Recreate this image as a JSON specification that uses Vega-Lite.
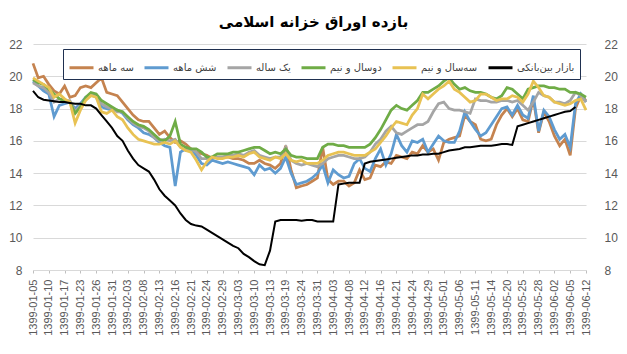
{
"$schema":"https://vega.github.io/schema/vega-lite/v6.json",
"width":565,"height":226,
"autosize":"none",
"padding":{"left":31,"top":44,"right":31,"bottom":84},
"background":"white",
"title":{"text":"بازده اوراق خزانه اسلامی","font":"DejaVu Sans","fontSize":15,"fontWeight":"bold","color":"#000000","anchor":"middle","offset":8},
"data":{"values":[
{"date":"1399-01-05","سه ماهه":20.8,"شش ماهه":19.7,"یک ساله":19.6,"دوسال و نیم":19.8,"سه\u200cسال و نیم":19.9,"بازار بین\u200cبانکی":19.1},
{"date":"1399-01-06","سه ماهه":19.9,"شش ماهه":19.4,"یک ساله":19.4,"دوسال و نیم":19.6,"سه\u200cسال و نیم":19.7,"بازار بین\u200cبانکی":18.7},
{"date":"1399-01-09","سه ماهه":20.0,"شش ماهه":19.1,"یک ساله":19.3,"دوسال و نیم":19.5,"سه\u200cسال و نیم":19.5,"بازار بین\u200cبانکی":18.55},
{"date":"1399-01-10","سه ماهه":19.5,"شش ماهه":18.9,"یک ساله":19.0,"دوسال و نیم":19.2,"سه\u200cسال و نیم":19.3,"بازار بین\u200cبانکی":18.5},
{"date":"1399-01-11","سه ماهه":19.1,"شش ماهه":17.5,"یک ساله":18.4,"دوسال و نیم":18.9,"سه\u200cسال و نیم":18.7,"بازار بین\u200cبانکی":18.45},
{"date":"1399-01-16","سه ماهه":18.9,"شش ماهه":18.2,"یک ساله":18.6,"دوسال و نیم":18.6,"سه\u200cسال و نیم":18.9,"بازار بین\u200cبانکی":18.4},
{"date":"1399-01-17","سه ماهه":19.4,"شش ماهه":18.3,"یک ساله":18.5,"دوسال و نیم":18.5,"سه\u200cسال و نیم":18.6,"بازار بین\u200cبانکی":18.4},
{"date":"1399-01-18","سه ماهه":18.7,"شش ماهه":18.4,"یک ساله":18.5,"دوسال و نیم":18.4,"سه\u200cسال و نیم":18.4,"بازار بین\u200cبانکی":18.35},
{"date":"1399-01-19","سه ماهه":18.8,"شش ماهه":18.0,"یک ساله":17.8,"دوسال و نیم":17.7,"سه\u200cسال و نیم":17.1,"بازار بین\u200cبانکی":18.3},
{"date":"1399-01-23","سه ماهه":19.3,"شش ماهه":18.3,"یک ساله":18.2,"دوسال و نیم":18.1,"سه\u200cسال و نیم":17.9,"بازار بین\u200cبانکی":18.3},
{"date":"1399-01-24","سه ماهه":19.4,"شش ماهه":18.7,"یک ساله":18.6,"دوسال و نیم":18.7,"سه\u200cسال و نیم":18.5,"بازار بین\u200cبانکی":18.2},
{"date":"1399-01-25","سه ماهه":19.3,"شش ماهه":18.9,"یک ساله":18.9,"دوسال و نیم":19.0,"سه\u200cسال و نیم":18.8,"بازار بین\u200cبانکی":18.2},
{"date":"1399-01-26","سه ماهه":19.6,"شش ماهه":18.7,"یک ساله":18.8,"دوسال و نیم":18.9,"سه\u200cسال و نیم":18.7,"بازار بین\u200cبانکی":18.0},
{"date":"1399-01-27","سه ماهه":19.9,"شش ماهه":18.1,"یک ساله":18.3,"دوسال و نیم":18.5,"سه\u200cسال و نیم":17.8,"بازار بین\u200cبانکی":17.6},
{"date":"1399-01-30","سه ماهه":19.0,"شش ماهه":18.0,"یک ساله":18.1,"دوسال و نیم":18.3,"سه\u200cسال و نیم":17.7,"بازار بین\u200cبانکی":17.2},
{"date":"1399-01-31","سه ماهه":18.9,"شش ماهه":17.9,"یک ساله":18.0,"دوسال و نیم":18.1,"سه\u200cسال و نیم":17.9,"بازار بین\u200cبانکی":16.8},
{"date":"1399-02-01","سه ماهه":18.8,"شش ماهه":17.9,"یک ساله":17.8,"دوسال و نیم":17.9,"سه\u200cسال و نیم":17.5,"بازار بین\u200cبانکی":16.3},
{"date":"1399-02-02","سه ماهه":18.4,"شش ماهه":17.7,"یک ساله":17.8,"دوسال و نیم":17.8,"سه\u200cسال و نیم":17.3,"بازار بین\u200cبانکی":16.0},
{"date":"1399-02-03","سه ماهه":18.0,"شش ماهه":17.3,"یک ساله":17.4,"دوسال و نیم":17.5,"سه\u200cسال و نیم":16.8,"بازار بین\u200cبانکی":15.4},
{"date":"1399-02-06","سه ماهه":17.6,"شش ماهه":17.0,"یک ساله":17.1,"دوسال و نیم":17.2,"سه\u200cسال و نیم":16.4,"بازار بین\u200cبانکی":14.9},
{"date":"1399-02-07","سه ماهه":17.3,"شش ماهه":16.8,"یک ساله":16.9,"دوسال و نیم":17.0,"سه\u200cسال و نیم":16.1,"بازار بین\u200cبانکی":14.5},
{"date":"1399-02-08","سه ماهه":17.2,"شش ماهه":16.5,"یک ساله":16.8,"دوسال و نیم":16.9,"سه\u200cسال و نیم":16.0,"بازار بین\u200cبانکی":14.3},
{"date":"1399-02-09","سه ماهه":17.2,"شش ماهه":16.4,"یک ساله":16.6,"دوسال و نیم":16.7,"سه\u200cسال و نیم":15.9,"بازار بین\u200cبانکی":14.1},
{"date":"1399-02-10","سه ماهه":16.8,"شش ماهه":16.2,"یک ساله":16.2,"دوسال و نیم":16.4,"سه\u200cسال و نیم":15.8,"بازار بین\u200cبانکی":13.6},
{"date":"1399-02-13","سه ماهه":16.4,"شش ماهه":15.9,"یک ساله":16.0,"دوسال و نیم":16.1,"سه\u200cسال و نیم":15.8,"بازار بین\u200cبانکی":13.0},
{"date":"1399-02-14","سه ماهه":16.6,"شش ماهه":15.7,"یک ساله":16.1,"دوسال و نیم":16.0,"سه\u200cسال و نیم":15.9,"بازار بین\u200cبانکی":12.6},
{"date":"1399-02-15","سه ماهه":16.2,"شش ماهه":15.6,"یک ساله":16.0,"دوسال و نیم":16.3,"سه\u200cسال و نیم":15.8,"بازار بین\u200cبانکی":12.3},
{"date":"1399-02-16","سه ماهه":15.9,"شش ماهه":13.2,"یک ساله":16.1,"دوسال و نیم":17.2,"سه\u200cسال و نیم":16.0,"بازار بین\u200cبانکی":12.0},
{"date":"1399-02-17","سه ماهه":16.0,"شش ماهه":15.3,"یک ساله":15.6,"دوسال و نیم":15.8,"سه\u200cسال و نیم":15.6,"بازار بین\u200cبانکی":11.5},
{"date":"1399-02-20","سه ماهه":15.8,"شش ماهه":15.5,"یک ساله":15.4,"دوسال و نیم":15.6,"سه\u200cسال و نیم":15.4,"بازار بین\u200cبانکی":11.1},
{"date":"1399-02-21","سه ماهه":15.5,"شش ماهه":15.4,"یک ساله":15.5,"دوسال و نیم":15.5,"سه\u200cسال و نیم":15.3,"بازار بین\u200cبانکی":10.85},
{"date":"1399-02-22","سه ماهه":15.3,"شش ماهه":15.1,"یک ساله":15.3,"دوسال و نیم":15.5,"سه\u200cسال و نیم":14.8,"بازار بین\u200cبانکی":10.75},
{"date":"1399-02-23","سه ماهه":15.2,"شش ماهه":14.6,"یک ساله":14.9,"دوسال و نیم":15.3,"سه\u200cسال و نیم":14.2,"بازار بین\u200cبانکی":10.7},
{"date":"1399-02-24","سه ماهه":15.1,"شش ماهه":14.5,"یک ساله":14.9,"دوسال و نیم":15.0,"سه\u200cسال و نیم":14.7,"بازار بین\u200cبانکی":10.5},
{"date":"1399-02-27","سه ماهه":14.9,"شش ماهه":14.8,"یک ساله":15.0,"دوسال و نیم":15.0,"سه\u200cسال و نیم":15.0,"بازار بین\u200cبانکی":10.3},
{"date":"1399-02-28","سه ماهه":15.0,"شش ماهه":14.7,"یک ساله":15.0,"دوسال و نیم":15.2,"سه\u200cسال و نیم":14.9,"بازار بین\u200cبانکی":10.1},
{"date":"1399-02-29","سه ماهه":15.0,"شش ماهه":14.6,"یک ساله":15.0,"دوسال و نیم":15.2,"سه\u200cسال و نیم":14.9,"بازار بین\u200cبانکی":9.9},
{"date":"1399-02-30","سه ماهه":15.0,"شش ماهه":14.7,"یک ساله":15.1,"دوسال و نیم":15.2,"سه\u200cسال و نیم":15.0,"بازار بین\u200cبانکی":9.7},
{"date":"1399-02-31","سه ماهه":14.9,"شش ماهه":14.6,"یک ساله":15.1,"دوسال و نیم":15.3,"سه\u200cسال و نیم":15.0,"بازار بین\u200cبانکی":9.5},
{"date":"1399-03-03","سه ماهه":14.9,"شش ماهه":14.5,"یک ساله":15.2,"دوسال و نیم":15.3,"سه\u200cسال و نیم":15.1,"بازار بین\u200cبانکی":9.35},
{"date":"1399-03-06","سه ماهه":14.8,"شش ماهه":14.4,"یک ساله":15.1,"دوسال و نیم":15.4,"سه\u200cسال و نیم":15.0,"بازار بین\u200cبانکی":9.0},
{"date":"1399-03-07","سه ماهه":14.6,"شش ماهه":14.3,"یک ساله":15.3,"دوسال و نیم":15.5,"سه\u200cسال و نیم":15.2,"بازار بین\u200cبانکی":8.8},
{"date":"1399-03-10","سه ماهه":14.6,"شش ماهه":13.9,"یک ساله":15.4,"دوسال و نیم":15.6,"سه\u200cسال و نیم":15.3,"بازار بین\u200cبانکی":8.55},
{"date":"1399-03-11","سه ماهه":14.8,"شش ماهه":14.5,"یک ساله":15.1,"دوسال و نیم":15.6,"سه\u200cسال و نیم":15.0,"بازار بین\u200cبانکی":8.35},
{"date":"1399-03-12","سه ماهه":14.6,"شش ماهه":14.2,"یک ساله":15.0,"دوسال و نیم":15.4,"سه\u200cسال و نیم":14.9,"بازار بین\u200cبانکی":8.3},
{"date":"1399-03-13","سه ماهه":14.5,"شش ماهه":14.3,"یک ساله":14.9,"دوسال و نیم":15.2,"سه\u200cسال و نیم":14.8,"بازار بین\u200cبانکی":9.2},
{"date":"1399-03-17","سه ماهه":14.3,"شش ماهه":14.0,"یک ساله":15.0,"دوسال و نیم":15.3,"سه\u200cسال و نیم":15.0,"بازار بین\u200cبانکی":11.0},
{"date":"1399-03-18","سه ماهه":14.6,"شش ماهه":14.3,"یک ساله":15.0,"دوسال و نیم":15.2,"سه\u200cسال و نیم":14.9,"بازار بین\u200cبانکی":11.1},
{"date":"1399-03-19","سه ماهه":15.7,"شش ماهه":15.0,"یک ساله":15.6,"دوسال و نیم":15.5,"سه\u200cسال و نیم":15.2,"بازار بین\u200cبانکی":11.1},
{"date":"1399-03-20","سه ماهه":14.2,"شش ماهه":14.0,"یک ساله":14.8,"دوسال و نیم":15.1,"سه\u200cسال و نیم":14.8,"بازار بین\u200cبانکی":11.1},
{"date":"1399-03-21","سه ماهه":13.1,"شش ماهه":13.3,"یک ساله":14.6,"دوسال و نیم":15.0,"سه\u200cسال و نیم":14.7,"بازار بین\u200cبانکی":11.1},
{"date":"1399-03-24","سه ماهه":13.2,"شش ماهه":13.4,"یک ساله":14.5,"دوسال و نیم":15.0,"سه\u200cسال و نیم":14.8,"بازار بین\u200cبانکی":11.05},
{"date":"1399-03-26","سه ماهه":13.3,"شش ماهه":13.5,"یک ساله":14.6,"دوسال و نیم":14.9,"سه\u200cسال و نیم":14.6,"بازار بین\u200cبانکی":11.1},
{"date":"1399-03-28","سه ماهه":13.5,"شش ماهه":13.7,"یک ساله":14.5,"دوسال و نیم":14.9,"سه\u200cسال و نیم":14.6,"بازار بین\u200cبانکی":11.1},
{"date":"1399-03-31","سه ماهه":13.7,"شش ماهه":14.0,"یک ساله":14.4,"دوسال و نیم":14.9,"سه\u200cسال و نیم":14.6,"بازار بین\u200cبانکی":11.0},
{"date":"1399-04-01","سه ماهه":15.6,"شش ماهه":14.5,"یک ساله":14.6,"دوسال و نیم":15.6,"سه\u200cسال و نیم":14.8,"بازار بین\u200cبانکی":11.0},
{"date":"1399-04-02","سه ماهه":13.6,"شش ماهه":13.4,"یک ساله":14.9,"دوسال و نیم":15.8,"سه\u200cسال و نیم":15.1,"بازار بین\u200cبانکی":11.0},
{"date":"1399-04-03","سه ماهه":13.3,"شش ماهه":14.2,"یک ساله":15.0,"دوسال و نیم":15.8,"سه\u200cسال و نیم":15.2,"بازار بین\u200cبانکی":11.0},
{"date":"1399-04-04","سه ماهه":13.5,"شش ماهه":13.9,"یک ساله":15.1,"دوسال و نیم":15.7,"سه\u200cسال و نیم":15.3,"بازار بین\u200cبانکی":13.3},
{"date":"1399-04-07","سه ماهه":13.5,"شش ماهه":13.7,"یک ساله":15.1,"دوسال و نیم":15.7,"سه\u200cسال و نیم":15.3,"بازار بین\u200cبانکی":13.35},
{"date":"1399-04-08","سه ماهه":13.2,"شش ماهه":13.8,"یک ساله":15.0,"دوسال و نیم":15.6,"سه\u200cسال و نیم":15.2,"بازار بین\u200cبانکی":13.4},
{"date":"1399-04-09","سه ماهه":13.4,"شش ماهه":14.6,"یک ساله":14.9,"دوسال و نیم":15.6,"سه\u200cسال و نیم":15.1,"بازار بین\u200cبانکی":13.4},
{"date":"1399-04-11","سه ماهه":14.2,"شش ماهه":14.9,"یک ساله":14.9,"دوسال و نیم":15.6,"سه\u200cسال و نیم":15.1,"بازار بین\u200cبانکی":13.4},
{"date":"1399-04-12","سه ماهه":13.6,"شش ماهه":14.3,"یک ساله":15.0,"دوسال و نیم":15.6,"سه\u200cسال و نیم":15.1,"بازار بین\u200cبانکی":14.6},
{"date":"1399-04-14","سه ماهه":13.7,"شش ماهه":14.1,"یک ساله":15.3,"دوسال و نیم":15.8,"سه\u200cسال و نیم":15.3,"بازار بین\u200cبانکی":14.7},
{"date":"1399-04-15","سه ماهه":14.5,"شش ماهه":14.9,"یک ساله":15.8,"دوسال و نیم":16.2,"سه\u200cسال و نیم":15.5,"بازار بین\u200cبانکی":14.75},
{"date":"1399-04-16","سه ماهه":14.4,"شش ماهه":15.5,"یک ساله":16.1,"دوسال و نیم":16.7,"سه\u200cسال و نیم":15.9,"بازار بین\u200cبانکی":14.8},
{"date":"1399-04-18","سه ماهه":14.7,"شش ماهه":14.5,"یک ساله":16.6,"دوسال و نیم":17.3,"سه\u200cسال و نیم":16.3,"بازار بین\u200cبانکی":14.85},
{"date":"1399-04-19","سه ماهه":14.6,"شش ماهه":15.2,"یک ساله":16.9,"دوسال و نیم":17.9,"سه\u200cسال و نیم":16.8,"بازار بین\u200cبانکی":14.9},
{"date":"1399-04-21","سه ماهه":15.1,"شش ماهه":16.4,"یک ساله":16.5,"دوسال و نیم":18.2,"سه\u200cسال و نیم":17.2,"بازار بین\u200cبانکی":14.95},
{"date":"1399-04-22","سه ماهه":15.0,"شش ماهه":15.7,"یک ساله":16.4,"دوسال و نیم":18.0,"سه\u200cسال و نیم":17.1,"بازار بین\u200cبانکی":15.0},
{"date":"1399-04-23","سه ماهه":14.9,"شش ماهه":15.3,"یک ساله":16.6,"دوسال و نیم":17.9,"سه\u200cسال و نیم":17.0,"بازار بین\u200cبانکی":15.05},
{"date":"1399-04-24","سه ماهه":15.3,"شش ماهه":16.0,"یک ساله":16.8,"دوسال و نیم":18.2,"سه\u200cسال و نیم":17.6,"بازار بین\u200cبانکی":15.1},
{"date":"1399-04-25","سه ماهه":15.2,"شش ماهه":15.9,"یک ساله":17.0,"دوسال و نیم":18.5,"سه\u200cسال و نیم":18.0,"بازار بین\u200cبانکی":15.1},
{"date":"1399-04-28","سه ماهه":15.7,"شش ماهه":16.1,"یک ساله":17.0,"دوسال و نیم":19.0,"سه\u200cسال و نیم":18.9,"بازار بین\u200cبانکی":15.15},
{"date":"1399-04-29","سه ماهه":15.3,"شش ماهه":15.3,"یک ساله":17.2,"دوسال و نیم":19.0,"سه\u200cسال و نیم":18.6,"بازار بین\u200cبانکی":15.15},
{"date":"1399-04-30","سه ماهه":15.5,"شش ماهه":15.8,"یک ساله":17.8,"دوسال و نیم":19.2,"سه\u200cسال و نیم":18.9,"بازار بین\u200cبانکی":15.2},
{"date":"1399-04-31","سه ماهه":14.8,"شش ماهه":16.3,"یک ساله":18.3,"دوسال و نیم":19.4,"سه\u200cسال و نیم":19.2,"بازار بین\u200cبانکی":15.2},
{"date":"1399-05-01","سه ماهه":15.9,"شش ماهه":16.0,"یک ساله":18.4,"دوسال و نیم":19.7,"سه\u200cسال و نیم":19.4,"بازار بین\u200cبانکی":15.3},
{"date":"1399-05-04","سه ماهه":16.1,"شش ماهه":15.9,"یک ساله":18.0,"دوسال و نیم":19.9,"سه\u200cسال و نیم":19.7,"بازار بین\u200cبانکی":15.4},
{"date":"1399-05-05","سه ماهه":16.2,"شش ماهه":15.9,"یک ساله":17.9,"دوسال و نیم":19.5,"سه\u200cسال و نیم":19.2,"بازار بین\u200cبانکی":15.45},
{"date":"1399-05-06","سه ماهه":16.3,"شش ماهه":16.6,"یک ساله":17.9,"دوسال و نیم":19.2,"سه\u200cسال و نیم":19.0,"بازار بین\u200cبانکی":15.5},
{"date":"1399-05-07","سه ماهه":17.6,"شش ماهه":17.8,"یک ساله":17.8,"دوسال و نیم":19.3,"سه\u200cسال و نیم":18.7,"بازار بین\u200cبانکی":15.6},
{"date":"1399-05-08","سه ماهه":17.2,"شش ماهه":17.2,"یک ساله":17.7,"دوسال و نیم":19.1,"سه\u200cسال و نیم":18.4,"بازار بین\u200cبانکی":15.6},
{"date":"1399-05-11","سه ماهه":17.0,"شش ماهه":16.7,"یک ساله":18.6,"دوسال و نیم":19.0,"سه\u200cسال و نیم":18.5,"بازار بین\u200cبانکی":15.65},
{"date":"1399-05-12","سه ماهه":16.1,"شش ماهه":16.3,"یک ساله":18.5,"دوسال و نیم":19.0,"سه\u200cسال و نیم":18.9,"بازار بین\u200cبانکی":15.7},
{"date":"1399-05-13","سه ماهه":16.0,"شش ماهه":16.5,"یک ساله":18.5,"دوسال و نیم":18.9,"سه\u200cسال و نیم":18.9,"بازار بین\u200cبانکی":15.7},
{"date":"1399-05-14","سه ماهه":16.1,"شش ماهه":17.0,"یک ساله":18.4,"دوسال و نیم":18.7,"سه\u200cسال و نیم":18.7,"بازار بین\u200cبانکی":15.7},
{"date":"1399-05-15","سه ماهه":17.0,"شش ماهه":17.5,"یک ساله":18.4,"دوسال و نیم":18.6,"سه\u200cسال و نیم":18.5,"بازار بین\u200cبانکی":15.75},
{"date":"1399-05-18","سه ماهه":17.6,"شش ماهه":18.0,"یک ساله":18.5,"دوسال و نیم":18.8,"سه\u200cسال و نیم":18.6,"بازار بین\u200cبانکی":15.8},
{"date":"1399-05-20","سه ماهه":18.0,"شش ماهه":18.1,"یک ساله":18.5,"دوسال و نیم":19.3,"سه\u200cسال و نیم":18.6,"بازار بین\u200cبانکی":15.8},
{"date":"1399-05-21","سه ماهه":17.5,"شش ماهه":17.6,"یک ساله":18.4,"دوسال و نیم":19.2,"سه\u200cسال و نیم":18.8,"بازار بین\u200cبانکی":15.75},
{"date":"1399-05-22","سه ماهه":18.0,"شش ماهه":18.2,"یک ساله":18.5,"دوسال و نیم":18.9,"سه\u200cسال و نیم":18.7,"بازار بین\u200cبانکی":16.9},
{"date":"1399-05-25","سه ماهه":17.3,"شش ماهه":17.6,"یک ساله":18.2,"دوسال و نیم":18.6,"سه\u200cسال و نیم":18.4,"بازار بین\u200cبانکی":17.0},
{"date":"1399-05-26","سه ماهه":17.2,"شش ماهه":17.4,"یک ساله":17.9,"دوسال و نیم":19.2,"سه\u200cسال و نیم":18.9,"بازار بین\u200cبانکی":17.1},
{"date":"1399-05-27","سه ماهه":18.6,"شش ماهه":18.8,"یک ساله":18.4,"دوسال و نیم":19.3,"سه\u200cسال و نیم":19.7,"بازار بین\u200cبانکی":17.2},
{"date":"1399-05-28","سه ماهه":16.5,"شش ماهه":16.6,"یک ساله":19.0,"دوسال و نیم":19.4,"سه\u200cسال و نیم":19.3,"بازار بین\u200cبانکی":17.3},
{"date":"1399-05-29","سه ماهه":17.8,"شش ماهه":17.9,"یک ساله":18.8,"دوسال و نیم":19.4,"سه\u200cسال و نیم":18.8,"بازار بین\u200cبانکی":17.4},
{"date":"1399-06-01","سه ماهه":17.2,"شش ماهه":17.5,"یک ساله":18.7,"دوسال و نیم":19.3,"سه\u200cسال و نیم":18.7,"بازار بین\u200cبانکی":17.5},
{"date":"1399-06-02","سه ماهه":16.3,"شش ماهه":16.7,"یک ساله":18.4,"دوسال و نیم":19.3,"سه\u200cسال و نیم":18.4,"بازار بین\u200cبانکی":17.6},
{"date":"1399-06-03","سه ماهه":15.7,"شش ماهه":16.1,"یک ساله":18.4,"دوسال و نیم":19.2,"سه\u200cسال و نیم":18.3,"بازار بین\u200cبانکی":17.7},
{"date":"1399-06-04","سه ماهه":16.1,"شش ماهه":16.4,"یک ساله":18.3,"دوسال و نیم":19.2,"سه\u200cسال و نیم":18.2,"بازار بین\u200cبانکی":17.8},
{"date":"1399-06-05","سه ماهه":15.1,"شش ماهه":15.6,"یک ساله":18.5,"دوسال و نیم":19.0,"سه\u200cسال و نیم":18.3,"بازار بین\u200cبانکی":17.85},
{"date":"1399-06-08","سه ماهه":18.0,"شش ماهه":18.3,"یک ساله":19.0,"دوسال و نیم":19.0,"سه\u200cسال و نیم":18.5,"بازار بین\u200cبانکی":18.1},
{"date":"1399-06-09","سه ماهه":18.8,"شش ماهه":18.9,"یک ساله":18.8,"دوسال و نیم":18.9,"سه\u200cسال و نیم":18.6,"بازار بین\u200cبانکی":null},
{"date":"1399-06-12","سه ماهه":18.5,"شش ماهه":18.4,"یک ساله":18.4,"دوسال و نیم":18.7,"سه\u200cسال و نیم":17.9,"بازار بین\u200cبانکی":null}
]},
"transform":[{"fold":["سه ماهه","شش ماهه","یک ساله","دوسال و نیم","سه\u200cسال و نیم","بازار بین\u200cبانکی"],"as":["series","value"]}],
"encoding":{
"x":{"field":"date","type":"ordinal","scale":{"range":[2,555],"padding":0},
"axis":{"title":null,"values":["1399-01-05","1399-01-10","1399-01-17","1399-01-23","1399-01-26","1399-01-31","1399-02-03","1399-02-08","1399-02-13","1399-02-16","1399-02-21","1399-02-24","1399-02-29","1399-03-03","1399-03-10","1399-03-13","1399-03-19","1399-03-24","1399-03-31","1399-04-03","1399-04-08","1399-04-12","1399-04-16","1399-04-21","1399-04-24","1399-04-29","1399-05-01","1399-05-06","1399-05-11","1399-05-14","1399-05-20","1399-05-25","1399-05-28","1399-06-02","1399-06-05","1399-06-12"],
"labelAngle":-90,"labelFont":"Liberation Sans","labelFontSize":11,"labelColor":"#595959","labelOverlap":false,"labelPadding":6,"ticks":true,"tickSize":3,"tickColor":"#BFBFBF","domainColor":"#D9D9D9","grid":false}},
"color":{"field":"series","type":"nominal","scale":{"domain":["سه ماهه","شش ماهه","یک ساله","دوسال و نیم","سه\u200cسال و نیم","بازار بین\u200cبانکی"],"range":["#C5834F","#5F9BD0","#A5A5A5","#6FAC46","#E8C253","#000000"]},
"legend":{"orient":"none","legendX":32,"legendY":5,"direction":"horizontal","title":null,"symbolType":"stroke","symbolSize":576,"symbolStrokeWidth":3,"labelFont":"DejaVu Sans","labelFontSize":10,"labelColor":"#404040","strokeColor":"#1F3050","fillColor":"white","padding":5,"columnPadding":4,"labelOffset":3}}
},
"layer":[
{"transform":[{"filter":{"field":"series","oneOf":["سه ماهه","شش ماهه","یک ساله","دوسال و نیم","سه\u200cسال و نیم"]}}],
"mark":{"type":"line","strokeWidth":2.75},
"encoding":{"y":{"field":"value","type":"quantitative","scale":{"domain":[8,22],"nice":false,"zero":false},
"axis":{"orient":"left","title":null,"values":[8,10,12,14,16,18,20,22],"grid":true,"gridColor":"#D9D9D9","domain":false,"ticks":false,"labelPadding":9,"labelFont":"Liberation Sans","labelFontSize":12,"labelColor":"#595959"}}}},
{"transform":[{"filter":{"field":"series","equal":"بازار بین\u200cبانکی"}}],
"mark":{"type":"line","strokeWidth":2},
"encoding":{"y":{"field":"value","type":"quantitative","scale":{"domain":[8,22],"nice":false,"zero":false},
"axis":{"orient":"right","title":null,"values":[8,10,12,14,16,18,20,22],"grid":false,"domain":false,"ticks":false,"labelPadding":8,"labelFont":"Liberation Sans","labelFontSize":12,"labelColor":"#595959"}}}}
],
"resolve":{"axis":{"y":"independent"}},
"config":{"view":{"stroke":null},"font":"Liberation Sans"}
}
